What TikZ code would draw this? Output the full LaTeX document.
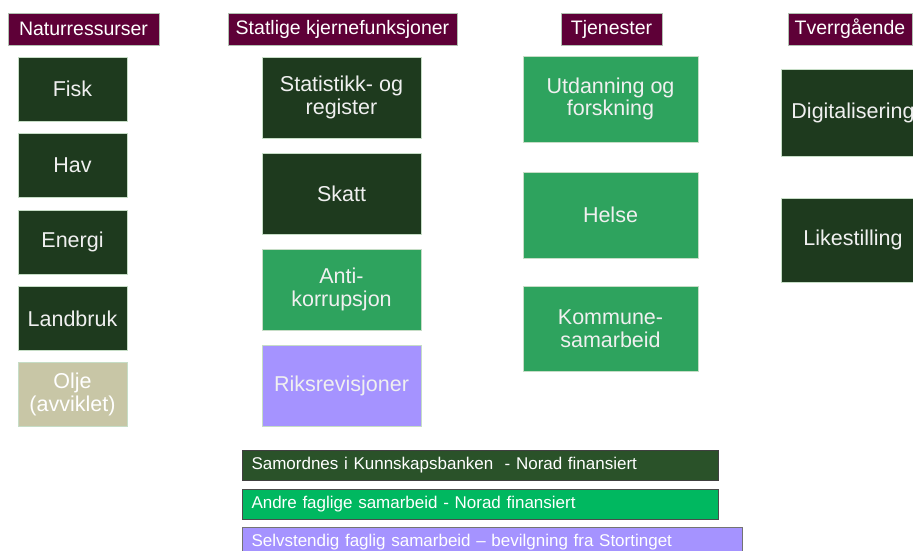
\documentclass[tikz,border=0pt]{standalone}
\usepackage{fontspec}
\setmainfont{Liberation Sans}
\definecolor{hdrred}{HTML}{5E0037}
\definecolor{darkgr}{HTML}{1E3A1E}
\definecolor{midgr}{HTML}{2EA35E}
\definecolor{lilla}{HTML}{A593FF}
\definecolor{olje}{HTML}{C8C6A6}
\definecolor{edge}{HTML}{C6DDC6}
\definecolor{legdark}{HTML}{2A5229}
\definecolor{leggr}{HTML}{00B860}
\tikzset{
  hdr/.style={fill=hdrred, draw=edge!70!gray, line width=0.8pt, text=white,
    font=\fontsize{19.5}{21}\selectfont, inner sep=0pt, minimum height=32pt},
  box/.style={draw=edge, line width=0.8pt, text=white!94!black, align=center,
    font=\fontsize{21.5}{22.5}\selectfont, inner sep=0pt},
  colA/.style={box, minimum width=109pt, minimum height=64pt},
  colB/.style={box, minimum width=159pt, minimum height=81pt},
  colC/.style={box, minimum width=175pt, minimum height=86pt},
  colD/.style={box, minimum width=144pt, minimum height=86pt},
  legbar/.style={anchor=west, line width=1pt, text=white, inner xsep=9pt,
    align=left, minimum height=30pt, font=\fontsize{17}{18}\selectfont},
}
\begin{document}
\begin{tikzpicture}[x=1pt,y=-1pt]
\useasboundingbox (0,0) rectangle (913,551);
\clip (0,0) rectangle (913,551);
%
\node (h1) at (83.5,29)  [hdr, minimum width=151pt] {Naturressurser};
\node (h2) at (342.5,29) [hdr, minimum width=229pt] {Statlige kjernefunksjoner};
\node (h3) at (611.5,29) [hdr, minimum width=101pt] {Tjenester};
\node (h4) at (850,29)   [hdr, minimum width=124pt] {Tverrgående};
%
\node (fisk) at (72.5,89)    [colA, fill=darkgr] {Fisk};
\node (hav)  at (72.5,165.5) [colA, fill=darkgr] {Hav};
\node (energi) at (72.5,242) [colA, fill=darkgr] {Energi};
\node (landbruk) at (72.5,318.5) [colA, fill=darkgr] {Landbruk};
\node (olje) at (72.5,394.5) [colA, fill=olje, text=white] {Olje\\(avviklet)};
%
\node (stat)  at (341.5,97.5) [colB, fill=darkgr] {Statistikk- og\\register};
\node (skatt) at (341.5,194)  [colB, fill=darkgr] {Skatt};
\node (anti)  at (341.5,289.5) [colB, fill=midgr] {Anti-\\korrupsjon};
\node (riks)  at (341.5,386)  [colB, fill=lilla] {Riksrevisjoner};
%
\node (utd)   at (610.5,99)    [colC, fill=midgr] {Utdanning og\\forskning};
\node (helse) at (610.5,215)   [colC, fill=midgr] {Helse};
\node (komm)  at (610.5,328.5) [colC, fill=midgr, minimum height=85pt] {Kommune-\\samarbeid};
%
\node (digi) at (853,112.5) [colD, fill=darkgr, minimum height=87pt] {Digitalisering};
\node (like) at (853,240)   [colD, fill=darkgr, minimum height=84pt] {Likestilling};
%
\node (leg1) at (242,465) [legbar, fill=legdark, draw=black!75, text width=458pt]
  {Samordnes i Kunnskapsbanken\ \ - Norad finansiert};
\node (leg2) at (242,504) [legbar, fill=leggr, draw=black!70, text width=458pt]
  {Andre faglige samarbeid - Norad finansiert};
\node (leg3) at (242,542) [legbar, fill=lilla, draw=black!55, text width=482pt]
  {Selvstendig faglig samarbeid -- bevilgning fra Stortinget};
\end{tikzpicture}
\end{document}
